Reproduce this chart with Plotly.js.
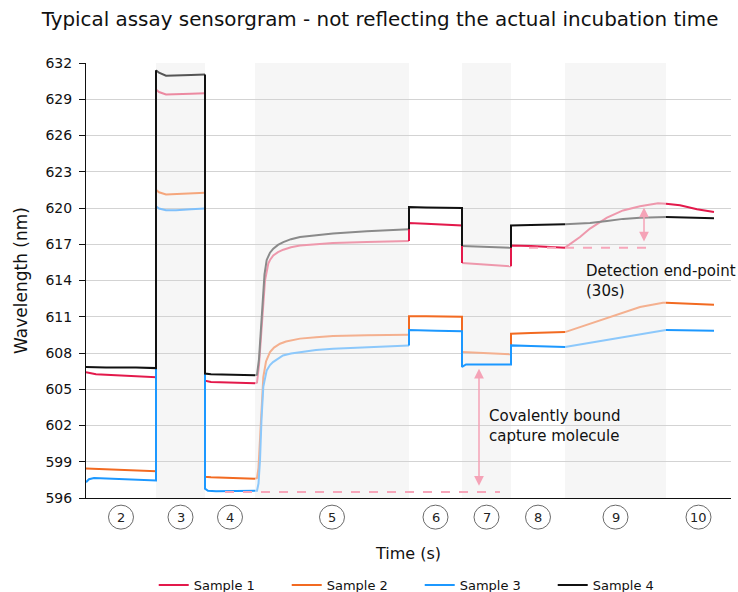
<!DOCTYPE html>
<html>
<head>
<meta charset="utf-8">
<script src="https://cdn.plot.ly/plotly-3.0.1.min.js"></script>
<style>html,body{margin:0;padding:0;background:#fff;}#chart{width:738px;height:592px;}</style>
</head>
<body>
<div id="chart"></div>
<script>
// ---- Data (time in arbitrary units; not the actual incubation time) ----
const regionBounds = [0, 70, 119, 169, 323, 376, 425, 479, 580, 645];
const regionLabels = ['2', '3', '4', '5', '6', '7', '8', '9', '10'];
const shadedRegions = ['3', '5', '7', '9'];
const sampleNames = ['Sample 1', 'Sample 2', 'Sample 3', 'Sample 4'];

// Sample 1 (per region: times / wavelengths)
const s1_t = [
  [0, 10, 30, 50, 70],
  [70, 73, 80, 90, 105, 119],
  [119, 125, 150, 169],
  [169, 171, 173, 175, 177, 179, 182.3, 184, 187.3, 192, 197.3, 205, 214, 230, 247, 280.7, 323],
  [323, 340, 360, 376],
  [376, 395, 410, 425],
  [425, 445, 465, 479],
  [479, 494, 504, 521, 537, 554, 572, 580],
  [580, 594, 611, 628]
];
const s1_v = [
  [606.4, 606.25, 606.15, 606.05, 606.0],
  [629.8, 629.6, 629.4, 629.4, 629.45, 629.5],
  [605.7, 605.6, 605.55, 605.5],
  [605.5, 605.55, 607, 609.5, 612, 614, 615.4, 615.7, 616.08, 616.35, 616.55, 616.75, 616.9, 617.0, 617.1, 617.18, 617.27],
  [618.75, 618.7, 618.6, 618.55],
  [615.45, 615.35, 615.25, 615.17],
  [616.9, 616.85, 616.8, 616.72],
  [616.72, 617.6, 618.3, 619.2, 619.8, 620.15, 620.4, 620.35],
  [620.35, 620.22, 619.89, 619.67]
];

// Sample 2
const s2_t = [
  [0, 20, 50, 70],
  [70, 73, 80, 90, 105, 119],
  [119, 125, 150, 169],
  [169, 171, 172.5, 174, 175.5, 177.3, 180, 184, 188, 194, 200, 214, 230, 247, 280.7, 323],
  [323, 340, 360, 376],
  [376, 395, 410, 425],
  [425, 445, 465, 479],
  [479, 500, 521, 554, 577, 580],
  [580, 600, 628]
];
const s2_v = [
  [598.45, 598.4, 598.3, 598.22],
  [621.5, 621.3, 621.12, 621.15, 621.22, 621.27],
  [597.75, 597.72, 597.65, 597.6],
  [597.6, 597.65, 598.5, 601, 604, 606.0, 607.3, 608.08, 608.45, 608.77, 608.95, 609.19, 609.3, 609.4, 609.46, 609.52],
  [611.05, 611.05, 611.02, 611.0],
  [608.08, 608.0, 607.95, 607.89],
  [609.6, 609.65, 609.7, 609.73],
  [609.73, 610.3, 610.85, 611.8, 612.15, 612.15],
  [612.15, 612.08, 612.0]
];

// Sample 3
const s3_t = [
  [0, 3, 8, 20, 50, 70],
  [70, 73, 80, 90, 105, 119],
  [119, 122, 130, 150, 169],
  [169, 171, 172.5, 174, 175.5, 177.3, 180.7, 184, 187, 192, 197, 205, 214, 230, 247, 280.7, 323],
  [323, 350, 376],
  [376, 380, 400, 425],
  [425, 445, 465, 479],
  [479, 500, 521, 554, 577, 580],
  [580, 600, 628]
];
const s3_v = [
  [597.3, 597.55, 597.65, 597.62, 597.5, 597.45],
  [620.15, 619.95, 619.82, 619.82, 619.9, 619.95],
  [596.77, 596.6, 596.55, 596.58, 596.6],
  [596.6, 596.6, 597.2, 599.1, 602.5, 605.2, 606.56, 607.0, 607.25, 607.55, 607.8, 607.95, 608.08, 608.25, 608.36, 608.5, 608.63],
  [609.9, 609.85, 609.8],
  [606.85, 607.05, 607.05, 607.05],
  [608.63, 608.58, 608.52, 608.5],
  [608.5, 608.8, 609.1, 609.6, 609.87, 609.9],
  [609.9, 609.88, 609.85]
];

// Sample 4
const s4_t = [
  [0, 20, 50, 70],
  [70, 73, 80, 90, 105, 119],
  [119, 125, 150, 169],
  [169, 171, 173, 175, 176.5, 178.5, 180.7, 184, 187.3, 192, 197.3, 205, 214, 230, 247, 280.7, 323],
  [323, 340, 360, 376],
  [376, 395, 410, 425],
  [425, 445, 465, 479],
  [479, 494, 504, 521, 537, 554, 580],
  [580, 600, 628]
];
const s4_v = [
  [606.85, 606.8, 606.8, 606.75],
  [631.4, 631.2, 630.95, 630.95, 631.0, 631.05],
  [606.3, 606.25, 606.2, 606.15],
  [606.15, 606.2, 607.5, 610, 612.3, 614.5, 615.7, 616.3, 616.64, 616.95, 617.18, 617.42, 617.6, 617.75, 617.88, 618.07, 618.25],
  [620.08, 620.05, 620.03, 620.0],
  [616.85, 616.8, 616.75, 616.7],
  [618.56, 618.6, 618.63, 618.65],
  [618.65, 618.68, 618.75, 618.92, 619.1, 619.2, 619.25],
  [619.25, 619.2, 619.15]
];

// Annotation values
const baselineLevel = 596.5;      // dashed baseline
const captureArrow = {t: 393, from: 596.9, to: 606.7};
const endpointLevel = 616.72;
const endpointArrow = {t: 558, from: 617.1, to: 620.05};

// ---- Styles ----
const styles = [
  {dark: '#e3194b', light: ['#ec8aa1', '#ee98ac', '#ee98ac', '#ee98ac'], lightRegions: ['3', '5', '7', '9']},
  {dark: '#f26a21', light: ['#f5a67c', '#f4b08f', '#f4b08f', '#f4b08f'], lightRegions: ['3', '5', '7', '9']},
  {dark: '#1c98ff', light: ['#7fc0fb', '#8cc8fb', '#8cc8fb', '#8cc8fb'], lightRegions: ['3', '5', '9']},
  {dark: '#111111', light: ['#555555', '#8a8a8a', '#8a8a8a', '#8a8a8a'], lightRegions: ['3', '5', '7', '9']}
];
const allT = [s1_t, s2_t, s3_t, s4_t];
const allV = [s1_v, s2_v, s3_v, s4_v];

const traces = [];
const lightTraces = [];
allT.forEach((tArr, si) => {
  const vArr = allV[si];
  const st = styles[si];
  const isLight = i => st.lightRegions.indexOf(regionLabels[i]) >= 0;
  const dx = [], dy = [];
  for (let i = 0; i < tArr.length; i++) {
    if (isLight(i)) {
      const li = shadedRegions.indexOf(regionLabels[i]);
      lightTraces.push({
        x: tArr[i], y: vArr[i], type: 'scatter', mode: 'lines',
        line: {color: st.light[li], width: 2},
        legendgroup: sampleNames[si], showlegend: false, hoverinfo: 'skip'
      });
      continue;
    }
    if (i > 0) { dx.push(tArr[i - 1][tArr[i - 1].length - 1]); dy.push(vArr[i - 1][vArr[i - 1].length - 1]); }
    for (let k = 0; k < tArr[i].length; k++) { dx.push(tArr[i][k]); dy.push(vArr[i][k]); }
    if (i < tArr.length - 1) { dx.push(tArr[i + 1][0]); dy.push(vArr[i + 1][0]); }
    dx.push(null); dy.push(null);
  }
  traces.push({
    x: dx, y: dy, type: 'scatter', mode: 'lines', name: sampleNames[si],
    line: {color: st.dark, width: 2}, legendgroup: sampleNames[si], connectgaps: false
  });
});

const data = lightTraces.concat(traces);

// ---- Shapes ----
const shapes = [];
regionLabels.forEach((lab, i) => {
  if (shadedRegions.indexOf(lab) >= 0) {
    shapes.push({type: 'rect', xref: 'x', yref: 'paper', x0: regionBounds[i], x1: regionBounds[i + 1],
      y0: 0, y1: 1, fillcolor: '#f6f6f6', line: {width: 0}, layer: 'below'});
  }
});
const labelY = -0.044;
const annotations = [];
regionLabels.forEach((lab, i) => {
  const c = (regionBounds[i] + regionBounds[i + 1]) / 2;
  shapes.push({type: 'circle', xref: 'x', yref: 'paper', xsizemode: 'pixel', ysizemode: 'pixel',
    xanchor: c, yanchor: labelY, x0: -12.5, x1: 12.5, y0: -12, y1: 12,
    line: {color: '#6a6a6a', width: 1}, fillcolor: 'rgba(0,0,0,0)'});
  annotations.push({xref: 'x', yref: 'paper', x: c, y: labelY, text: lab, showarrow: false,
    xanchor: 'center', yanchor: 'middle', font: {size: 13, color: '#222'}});
});
shapes.push({type: 'line', xref: 'x', yref: 'y', x0: 139, x1: 414, y0: baselineLevel, y1: baselineLevel,
  line: {color: '#f7a6ba', width: 2, dash: 'dash'}});
shapes.push({type: 'line', xref: 'x', yref: 'y', x0: 443, x1: 567, y0: endpointLevel, y1: endpointLevel,
  line: {color: '#f7a6ba', width: 2, dash: 'dash'}});

annotations.push({x: captureArrow.t, y: captureArrow.to, ax: captureArrow.t, ay: captureArrow.from,
  xref: 'x', yref: 'y', axref: 'x', ayref: 'y', text: '', showarrow: true, arrowside: 'end+start',
  arrowhead: 2, arrowsize: 1.3, arrowwidth: 1.5, arrowcolor: '#f5a3b7', standoff: 0, startstandoff: 0});
annotations.push({x: endpointArrow.t, y: endpointArrow.to, ax: endpointArrow.t, ay: endpointArrow.from,
  xref: 'x', yref: 'y', axref: 'x', ayref: 'y', text: '', showarrow: true, arrowside: 'end+start',
  arrowhead: 2, arrowsize: 1.3, arrowwidth: 1.5, arrowcolor: '#f5a3b7', standoff: 0, startstandoff: 0});
annotations.push({x: 498, y: 614.0, xref: 'x', yref: 'y', text: 'Detection end-point<br>(30s)',
  showarrow: false, xanchor: 'left', yanchor: 'middle', align: 'left', font: {size: 15, color: '#111'}});
annotations.push({x: 400.5, y: 602.0, xref: 'x', yref: 'y', text: 'Covalently bound<br>capture molecule',
  showarrow: false, xanchor: 'left', yanchor: 'middle', align: 'left', font: {size: 15, color: '#111'}});

const layout = {
  width: 738, height: 592,
  margin: {l: 86, r: 7, t: 63, b: 94, autoexpand: false},
  paper_bgcolor: '#fff', plot_bgcolor: '#fff',
  font: {family: 'DejaVu Sans, Verdana, sans-serif', color: '#111', size: 14},
  title: {text: 'Typical assay sensorgram - not reflecting the actual incubation time',
    font: {size: 19.9, color: '#111'}, x: 380 / 738, xanchor: 'center', xref: 'container',
    y: 1 - 19 / 592, yanchor: 'middle', yref: 'container'},
  xaxis: {range: [0, 645], showgrid: false, zeroline: false, showticklabels: false, ticks: '',
    showline: true, linecolor: '#111', linewidth: 1,
    title: {text: 'Time (s)', font: {size: 16}, standoff: 49}},
  yaxis: {range: [596, 632], tick0: 596, dtick: 3, showgrid: true, gridcolor: '#d3d3d3', gridwidth: 1,
    zeroline: false, ticks: 'outside', ticklen: 6, tickcolor: '#111', showline: true, linecolor: '#111',
    linewidth: 1, tickfont: {size: 14}, ticklabelstandoff: 4,
    title: {text: 'Wavelength (nm)', font: {size: 17}, standoff: 13}},
  showlegend: true,
  legend: {orientation: 'h', x: 0.105, xanchor: 'left', y: -0.2, yanchor: 'middle',
    font: {size: 13}, itemwidth: 30, entrywidth: 88, traceorder: 'normal'},
  shapes: shapes,
  annotations: annotations
};

Plotly.newPlot('chart', data, layout, {displayModeBar: false, staticPlot: true});
</script>
</body>
</html>
